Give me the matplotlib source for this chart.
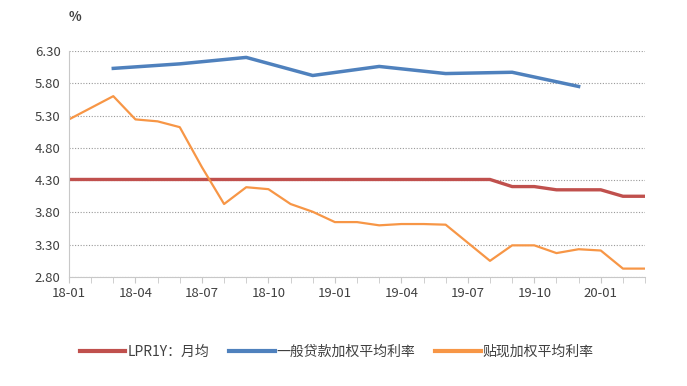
import matplotlib
matplotlib.use("Agg")
import matplotlib.pyplot as plt

plt.rcParams["font.family"] = ["Noto Sans CJK SC", "DejaVu Sans"]

# months 18-01 .. 20-03
months = [f"{y:02d}-{m:02d}" for y in (18, 19, 20) for m in range(1, 13)][:27]
tick_labels = ["18-01", "18-04", "18-07", "18-10", "19-01", "19-04", "19-07", "19-10", "20-01"]

lpr = [4.31, 4.31, 4.31, 4.31, 4.31, 4.31, 4.31, 4.31, 4.31, 4.31,
       4.31, 4.31, 4.31, 4.31, 4.31, 4.31, 4.31, 4.31, 4.31, 4.31,
       4.20, 4.20, 4.15, 4.15, 4.15, 4.05, 4.05]

loan_months = ["18-03", "18-06", "18-09", "18-12", "19-03", "19-06", "19-09", "19-12"]
loan_rate = [6.03, 6.10, 6.20, 5.92, 6.06, 5.95, 5.97, 5.75]

discount = [5.24, 5.42, 5.60, 5.24, 5.21, 5.12, 4.50, 3.93, 4.19, 4.16,
            3.93, 3.81, 3.65, 3.65, 3.60, 3.62, 3.62, 3.61, 3.33, 3.05,
            3.29, 3.29, 3.17, 3.23, 3.21, 2.93, 2.93]

yticks = [2.80, 3.30, 3.80, 4.30, 4.80, 5.30, 5.80, 6.30]

x = list(range(len(months)))
x_loan = [months.index(m) for m in loan_months]

fig = plt.figure(figsize=(6.87, 3.86), dpi=100)
ax = fig.add_axes([0.1004, 0.2824, 0.8386, 0.5856])

ax.plot(x, lpr, color="#C0504D", lw=2.4, label="LPR1Y：月均")
ax.plot(x_loan, loan_rate, color="#4F81BD", lw=2.5, label="一般贷款加权平均利率")
ax.plot(x, discount, color="#F79646", lw=1.6, label="贴现加权平均利率")

ax.set_xlim(0, 26)
ax.set_ylim(2.80, 6.30)
ax.set_yticks(yticks)
ax.set_yticklabels([f"{v:.2f}" for v in yticks])
ax.set_xticks([months.index(t) for t in tick_labels])
ax.set_xticklabels(tick_labels)
ax.set_xticks(x, minor=True)

ax.grid(axis="y", linestyle=(0, (1, 1.5)), color="#999999", lw=0.8)
ax.set_axisbelow(True)
for s in ("top", "right"):
    ax.spines[s].set_visible(False)
for s in ("left", "bottom"):
    ax.spines[s].set_color("#c8c8c8")
ax.tick_params(axis="y", length=0, labelsize=9.5, colors="#404040", pad=6)
ax.tick_params(axis="x", which="both", length=4, color="#c8c8c8",
               labelsize=9.5, labelcolor="#404040", pad=3)

fig.text(0.100, 0.955, "%", fontsize=9.5, color="#404040", ha="left", va="center",
         fontweight="bold")

leg = fig.legend(loc="center", bbox_to_anchor=(0.49, 0.088), ncol=3, frameon=False,
                 fontsize=10, handlelength=3.3, columnspacing=1.4, handletextpad=0.15)
for t in leg.get_texts():
    t.set_color("#404040")
for h in leg.get_lines():
    h.set_linewidth(3)

fig.savefig("out.png", dpi=100)
